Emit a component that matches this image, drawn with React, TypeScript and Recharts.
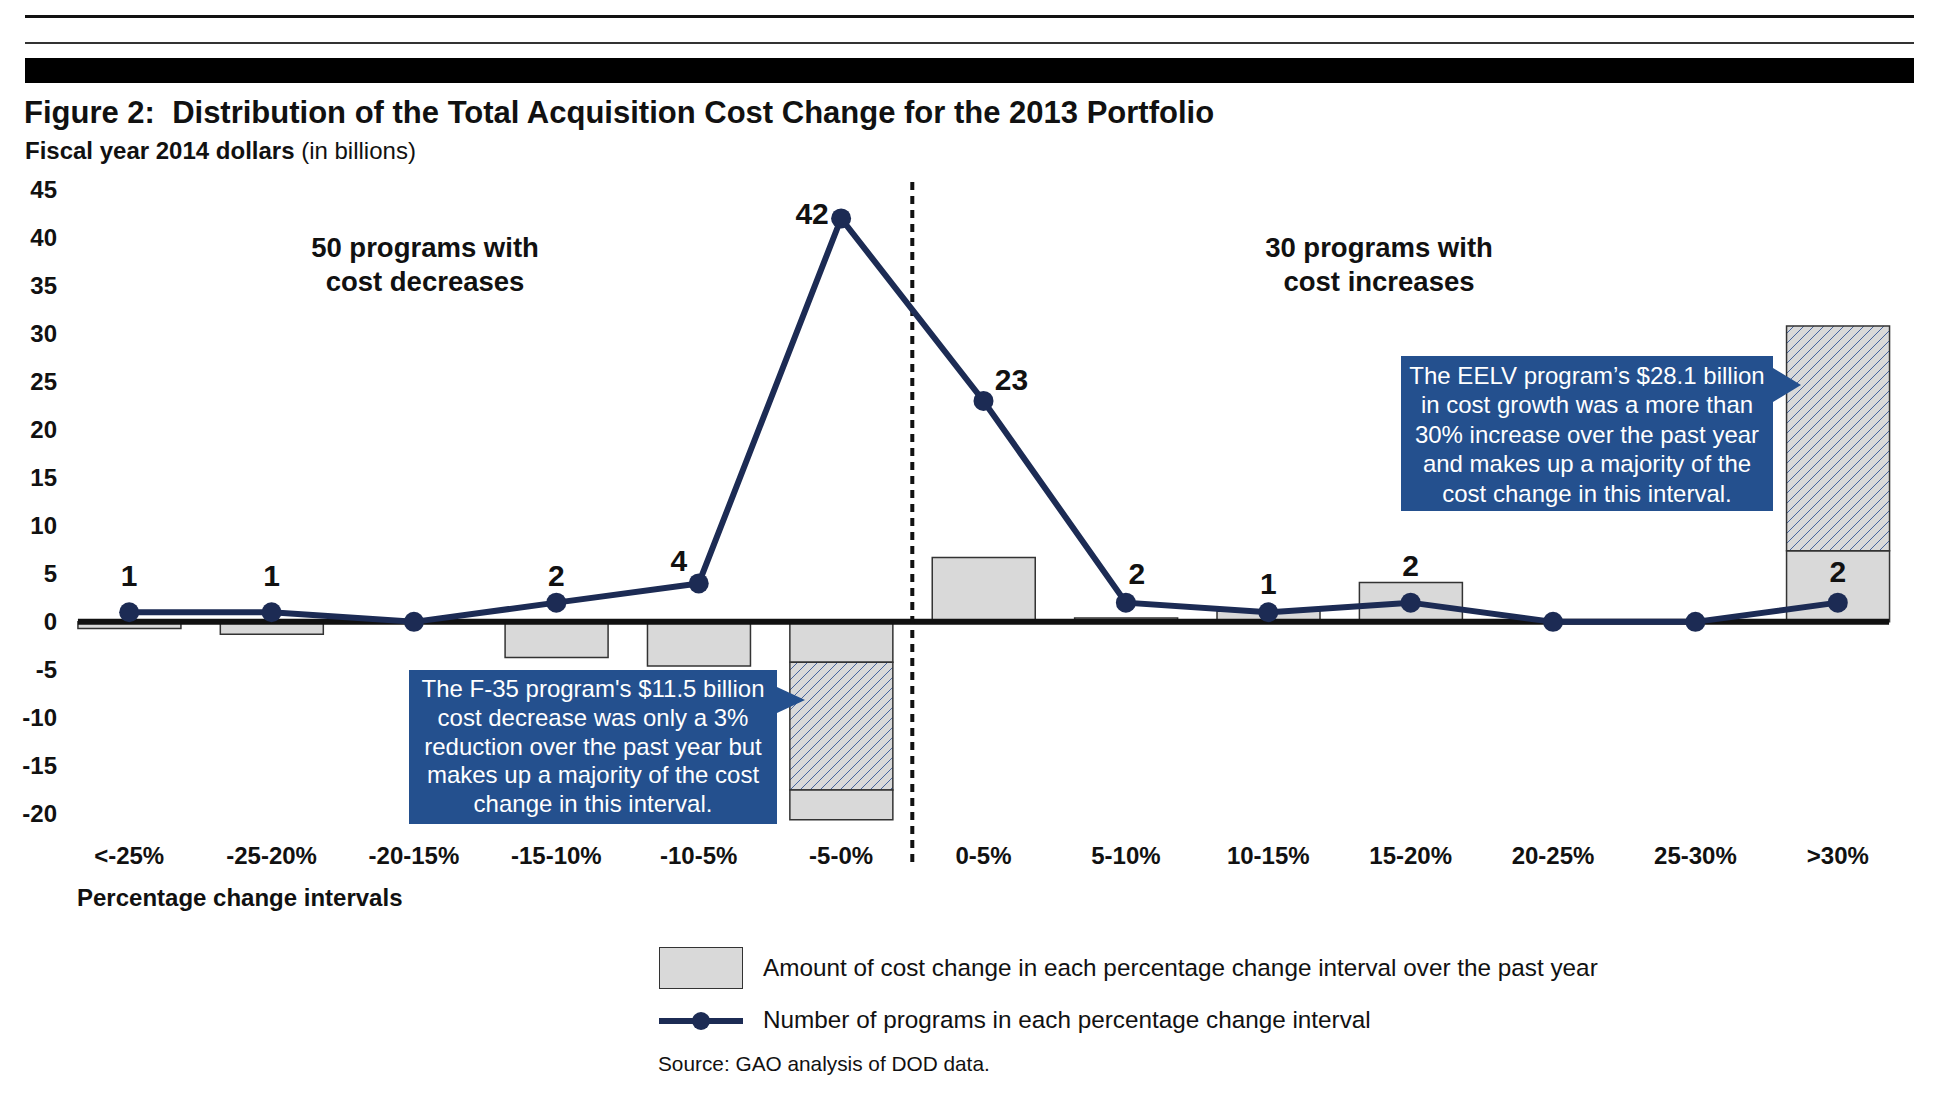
import React from "react";
import {
  Bar,
  ComposedChart,
  LabelList,
  Line,
  ReferenceLine,
  XAxis,
  YAxis,
} from "recharts";

const categories = [
  "<-25%",
  "-25-20%",
  "-20-15%",
  "-15-10%",
  "-10-5%",
  "-5-0%",
  "0-5%",
  "5-10%",
  "10-15%",
  "15-20%",
  "20-25%",
  "25-30%",
  ">30%",
];

// cost change in billions, split where one program dominates the interval
const costChange = [-0.7, -1.3, 0, -3.7, -4.6, -4.2, 6.7, 0.4, 1.1, 4.1, 0, 0, 7.4];
const dominantProgram = [0, 0, 0, 0, 0, -13.3, 0, 0, 0, 0, 0, 0, 23.4];
const costChangeRest = [0, 0, 0, 0, 0, -3.1, 0, 0, 0, 0, 0, 0, 0];
const programCounts = [1, 1, 0, 2, 4, 42, 23, 2, 1, 2, 0, 0, 2];

const yTicks = [-20, -15, -10, -5, 0, 5, 10, 15, 20, 25, 30, 35, 40, 45];

const leftNote = [
  "The F-35 program's $11.5 billion",
  "cost decrease was only a 3%",
  "reduction over the past year but",
  "makes up a majority of the cost",
  "change in this interval.",
];
const rightNote = [
  "The EELV program\u2019s $28.1 billion",
  "in cost growth was a more than",
  "30% increase over the past year",
  "and makes up a majority of the",
  "cost change in this interval.",
];

const data = categories.map((name, i) => ({
  name,
  cost: costChange[i],
  dominant: dominantProgram[i],
  rest: costChangeRest[i],
  count: programCounts[i],
}));

const FONT = '"Liberation Sans", Arial, Helvetica, sans-serif';
const NAVY = "#1c2b54";
const CALLOUT = "#24508e";
const GRAY = "#d9d9d9";
const GAP = 0.14; // barCategoryGap as a fraction of the band

// where the count labels sit relative to their points
const labelNudge: Record<string, [number, number]> = {
  "<-25%": [0, -37],
  "-25-20%": [0, -37],
  "-15-10%": [0, -27],
  "-10-5%": [-20, -23],
  "-5-0%": [-29, -5],
  "0-5%": [28, -21],
  "5-10%": [11, -29],
  "10-15%": [0, -29],
  "15-20%": [0, -37],
  ">30%": [0, -31],
};

function CountLabel(props: any) {
  const { x, y, value, index } = props;
  if (!value) return null;
  const [dx, dy] = labelNudge[categories[index]] ?? [0, -32];
  return (
    <text
      x={x + dx}
      y={y + dy}
      textAnchor="middle"
      dominantBaseline="central"
      fontFamily={FONT}
      fontWeight={700}
      fontSize={30}
      fill="#111"
    >
      {value}
    </text>
  );
}

function CategoryTick(props: any) {
  const { x, y, payload } = props;
  return (
    <text
      x={x}
      y={y - 7}
      textAnchor="middle"
      dominantBaseline="central"
      fontFamily={FONT}
      fontWeight={700}
      fontSize={24}
      fill="#111"
    >
      {payload.value}
    </text>
  );
}

// zero line stops at the outer edges of the first and last bars
function ZeroLine(props: any) {
  const { x1, x2, y1 } = props;
  const inset = ((x2 - x1) / categories.length) * GAP;
  return <line x1={x1 + inset} x2={x2 - inset} y1={y1} y2={y1} stroke="#111" strokeWidth={6} />;
}

function Callout({
  lines,
  left,
  top,
  width,
  height,
  lineHeight,
  arrowTop,
  arrowHalf,
}: {
  lines: string[];
  left: number;
  top: number;
  width: number;
  height: number;
  lineHeight: number;
  arrowTop: number;
  arrowHalf: number;
}) {
  return (
    <>
      <div
        style={{
          position: "absolute",
          left,
          top,
          width,
          height,
          background: CALLOUT,
          color: "#fff",
          fontFamily: FONT,
          fontSize: 24,
          lineHeight: `${lineHeight}px`,
          textAlign: "center",
          paddingTop: 5,
          boxSizing: "border-box",
        }}
      >
        {lines.map((l) => (
          <div key={l}>{l}</div>
        ))}
      </div>
      <div
        style={{
          position: "absolute",
          left: left + width,
          top: arrowTop,
          width: 0,
          height: 0,
          borderTop: `${arrowHalf}px solid transparent`,
          borderBottom: `${arrowHalf}px solid transparent`,
          borderLeft: `28px solid ${CALLOUT}`,
        }}
      />
    </>
  );
}

export default function App() {
  const text = (style: React.CSSProperties, children: React.ReactNode) => (
    <div
      style={{
        position: "absolute",
        fontFamily: FONT,
        color: "#111",
        whiteSpace: "nowrap",
        lineHeight: 1,
        ...style,
      }}
    >
      {children}
    </div>
  );

  return (
    <div
      style={{
        position: "absolute",
        left: 0,
        top: 0,
        width: 1943,
        height: 1096,
        background: "#fff",
        overflow: "hidden",
      }}
    >
      {/* page rules */}
      <div style={{ position: "absolute", left: 25, top: 15, width: 1889, height: 3, background: "#111" }} />
      <div style={{ position: "absolute", left: 25, top: 42, width: 1889, height: 2, background: "#333" }} />
      <div style={{ position: "absolute", left: 25, top: 58, width: 1889, height: 25, background: "#000" }} />

      {text(
        { left: 24, top: 97, fontSize: 31, fontWeight: 700 },
        "Figure 2:\u00a0 Distribution of the Total Acquisition Cost Change for the 2013 Portfolio",
      )}
      {text(
        { left: 25, top: 139, fontSize: 24 },
        <>
          <b>Fiscal year 2014 dollars</b> (in billions)
        </>,
      )}

      <div style={{ position: "absolute", left: 0, top: 0 }}>
        <ComposedChart
          width={1943}
          height={1096}
          data={data}
          stackOffset="sign"
          barCategoryGap={`${GAP * 100}%`}
          margin={{ top: 180, right: 34, bottom: 204, left: 0 }}
        >
          <defs>
            <pattern id="hatch" width="10" height="10" patternUnits="userSpaceOnUse">
              <rect width="10" height="10" fill={GRAY} />
              <path
                d="M-2,2 L2,-2 M0,10 L10,0 M8,12 L12,8"
                stroke="#46659f"
                strokeWidth={1}
              />
            </pattern>
          </defs>
          <XAxis
            dataKey="name"
            height={30}
            axisLine={false}
            tickLine={false}
            tickSize={0}
            tickMargin={0}
            interval={0}
            tick={<CategoryTick />}
          />
          <YAxis
            width={58}
            domain={[-25, 46]}
            ticks={yTicks}
            interval={0}
            allowDataOverflow
            axisLine={false}
            tickLine={false}
            tickSize={0}
            tickMargin={1}
            tick={{ fill: "#111", fontSize: 24, fontWeight: 700, fontFamily: FONT }}
          />
          <Bar dataKey="cost" stackId="c" fill={GRAY} stroke="#333" strokeWidth={1.5} isAnimationActive={false} />
          <Bar dataKey="dominant" stackId="c" fill="url(#hatch)" stroke="#333" strokeWidth={1.5} isAnimationActive={false} />
          <Bar dataKey="rest" stackId="c" fill={GRAY} stroke="#333" strokeWidth={1.5} isAnimationActive={false} />
          <ReferenceLine y={0} shape={ZeroLine} />
          <ReferenceLine x="-5-0%" position="end" stroke="#111" strokeWidth={4} strokeDasharray="8 6" />
          <Line
            type="linear"
            dataKey="count"
            stroke={NAVY}
            strokeWidth={6}
            dot={{ r: 10, fill: NAVY, stroke: "none" }}
            activeDot={false}
            isAnimationActive={false}
          >
            <LabelList dataKey="count" content={<CountLabel />} />
          </Line>
        </ComposedChart>
      </div>

      {text(
        { left: 225, top: 231, width: 400, fontSize: 27.5, fontWeight: 700, textAlign: "center", lineHeight: "34px" },
        <>
          50 programs with
          <br />
          cost decreases
        </>,
      )}
      {text(
        { left: 1179, top: 231, width: 400, fontSize: 27.5, fontWeight: 700, textAlign: "center", lineHeight: "34px" },
        <>
          30 programs with
          <br />
          cost increases
        </>,
      )}

      <Callout lines={leftNote} left={409} top={670} width={368} height={154} lineHeight={28.8} arrowTop={687} arrowHalf={13} />
      <Callout lines={rightNote} left={1401} top={356} width={372} height={155} lineHeight={29.4} arrowTop={368} arrowHalf={17} />

      {text({ left: 77, top: 886, fontSize: 24, fontWeight: 700 }, "Percentage change intervals")}

      {/* legend */}
      <div
        style={{
          position: "absolute",
          left: 659,
          top: 947,
          width: 84,
          height: 42,
          background: GRAY,
          border: "1.5px solid #333",
          boxSizing: "border-box",
        }}
      />
      {text({ left: 763, top: 956, fontSize: 24.3 }, "Amount of cost change in each percentage change interval over the past year")}
      <svg style={{ position: "absolute", left: 659, top: 1005 }} width={84} height={32}>
        <line x1={0} y1={16} x2={84} y2={16} stroke={NAVY} strokeWidth={6} />
        <circle cx={42} cy={16} r={9} fill={NAVY} />
      </svg>
      {text({ left: 763, top: 1008, fontSize: 24.3 }, "Number of programs in each percentage change interval")}
      {text({ left: 658, top: 1054, fontSize: 20.8 }, "Source: GAO analysis of DOD data.")}
    </div>
  );
}
